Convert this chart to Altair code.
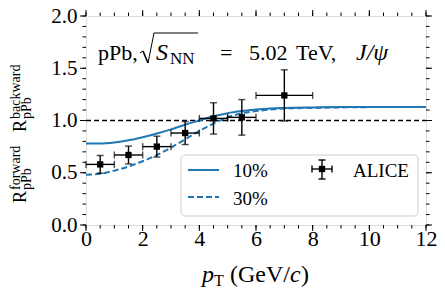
import altair as alt
import pandas as pd

# ---------------- data ----------------
pt_x = [0.5, 1.5, 2.5, 3.5, 4.5, 5.5, 7.0]
pt_xerr = [0.5, 0.5, 0.5, 0.5, 0.5, 0.5, 1.0]
pt_y = [0.58, 0.67, 0.75, 0.88, 1.02, 1.03, 1.24]
pt_yerr = [0.085, 0.085, 0.10, 0.11, 0.15, 0.17, 0.245]

curve_x = [0, 0.5, 1, 1.5, 2, 2.5, 3, 3.5, 4, 4.5, 5, 5.5, 6, 6.5, 7, 8, 9, 10, 11, 12]
curve_10 = [0.78, 0.78, 0.79, 0.81, 0.84, 0.875, 0.915, 0.96, 1.00, 1.04, 1.07, 1.09,
            1.105, 1.115, 1.12, 1.125, 1.128, 1.13, 1.13, 1.13]
curve_30 = [0.48, 0.49, 0.52, 0.56, 0.61, 0.67, 0.74, 0.82, 0.90, 0.97, 1.03, 1.07,
            1.09, 1.105, 1.115, 1.12, 1.125, 1.128, 1.13, 1.13]

x_major = [0, 2, 4, 6, 8, 10, 12]
x_minor = [i * 0.5 for i in range(25)]
y_major = [0.0, 0.5, 1.0, 1.5, 2.0]
y_minor = [i * 0.1 for i in range(21)]

W, H = 340, 209
TOP = 8
FONT = "Liberation Serif, Times New Roman, Tinos, DejaVu Serif, serif"
BLUE = "#1f77b4"

xs = alt.Scale(domain=[0, 12], nice=False, zero=False)
ys = alt.Scale(domain=[0, 2], nice=False, zero=False)
xax = alt.Axis(values=x_major, ticks=False, domain=False, grid=False, labelFont=FONT,
               labelFontSize=22, labelColor="black", labelPadding=3, title=None,
               labelFlush=False)
yax = alt.Axis(values=y_major, ticks=False, domain=False, grid=False, labelFont=FONT,
               labelFontSize=21, labelColor="black", labelPadding=9, title=None,
               format=".1f")


def X(f):
    return alt.X(f, type="quantitative", scale=xs, axis=xax, title=None)


def Y(f):
    return alt.Y(f, type="quantitative", scale=ys, axis=yax, title=None)


pts = pd.DataFrame({"x": pt_x, "y": pt_y,
                    "xlo": [a - b for a, b in zip(pt_x, pt_xerr)],
                    "xhi": [a + b for a, b in zip(pt_x, pt_xerr)],
                    "ylo": [a - b for a, b in zip(pt_y, pt_yerr)],
                    "yhi": [a + b for a, b in zip(pt_y, pt_yerr)]})
cur = pd.DataFrame({"x": curve_x, "c10": curve_10, "c30": curve_30})

layers = []

# reference line at 1
ref = pd.DataFrame({"x": [0, 12], "y": [1, 1]})
layers.append(alt.Chart(ref).mark_line(color="black", strokeWidth=1.3, strokeDash=[5, 3])
              .encode(x=X("x"), y=Y("y")))

# curves
layers.append(alt.Chart(cur).mark_line(color=BLUE, strokeWidth=2, interpolate="monotone")
              .encode(x=X("x"), y=Y("c10")))
layers.append(alt.Chart(cur).mark_line(color=BLUE, strokeWidth=2, interpolate="monotone",
                                       strokeDash=[6, 3])
              .encode(x=X("x"), y=Y("c30")))

# error bars
base = alt.Chart(pts)
layers.append(base.mark_rule(color="black", strokeWidth=1.4)
              .encode(x=X("xlo"), x2="xhi", y=Y("y")))
layers.append(base.mark_rule(color="black", strokeWidth=1.4)
              .encode(x=X("x"), y=Y("ylo"), y2="yhi"))
for f in ["ylo", "yhi"]:
    layers.append(base.mark_tick(color="black", orient="horizontal", size=7, thickness=1.4)
                  .encode(x=X("x"), y=Y(f)))
for f in ["xlo", "xhi"]:
    layers.append(base.mark_tick(color="black", orient="vertical", size=7, thickness=1.4)
                  .encode(x=X(f), y=Y("y")))
layers.append(base.mark_square(color="black", size=40, opacity=1)
              .encode(x=X("x"), y=Y("y")))


# outward ticks on all four sides
def xticks(vals, ln):
    d = alt.Chart(pd.DataFrame({"v": vals}))
    return [d.mark_rule(color="black", strokeWidth=1).encode(x=X("v"), y=alt.value(H), y2=alt.value(H + ln)),
            d.mark_rule(color="black", strokeWidth=1).encode(x=X("v"), y=alt.value(0), y2=alt.value(-ln))]


def yticks(vals, ln):
    d = alt.Chart(pd.DataFrame({"v": vals}))
    return [d.mark_rule(color="black", strokeWidth=1).encode(y=Y("v"), x=alt.value(0), x2=alt.value(-ln)),
            d.mark_rule(color="black", strokeWidth=1).encode(y=Y("v"), x=alt.value(W), x2=alt.value(W + ln))]


layers += xticks(x_minor, 3.5) + xticks(x_major, 6) + yticks(y_minor, 3.5) + yticks(y_major, 6)


def txt(s, x, y, size, style="normal", angle=0, align="left", baseline="alphabetic"):
    return (alt.Chart(pd.DataFrame({"t": [s]}))
            .mark_text(font=FONT, fontSize=size, fontStyle=style, angle=angle, align=align,
                       baseline=baseline, color="black")
            .encode(x=alt.value(x), y=alt.value(y), text="t:N"))


one = alt.Chart(pd.DataFrame({"a": [0]}))


def seg(x1, y1, x2, y2, w=1.0, color="black", dash=None):
    kw = dict(color=color, strokeWidth=w)
    if dash:
        kw["strokeDash"] = dash
    return one.mark_rule(**kw).encode(x=alt.value(x1), y=alt.value(y1),
                                      x2=alt.value(x2), y2=alt.value(y2))


# legend box (pixel coordinates relative to the plot area)
legbox = one.mark_rect(
    fill="white", fillOpacity=0.8, stroke="#cccccc", strokeWidth=1, cornerRadius=4
).encode(x=alt.value(95), x2=alt.value(332), y=alt.value(139), y2=alt.value(200))
layers.append(legbox)
layers.append(seg(102, 154, 133, 154, 2, BLUE))
layers.append(seg(102, 181, 133, 181, 2, BLUE, [6, 3]))
layers.append(txt("10%", 147, 161, 19))
layers.append(txt("30%", 147, 189, 19))
layers.append(txt("ALICE", 267, 161, 19))
layers.append(seg(226, 153, 246, 153, 1.4))
layers.append(seg(236, 144, 236, 163, 1.4))
for yy in [144, 163]:
    layers.append(seg(232.5, yy, 239.5, yy, 1.4))
for xx in [226, 246]:
    layers.append(seg(xx, 149.5, xx, 156.5, 1.4))
layers.append(one.mark_square(color="black", size=40, opacity=1)
              .encode(x=alt.value(236), y=alt.value(153)))

# annotation: pPb, sqrt(S_NN) = 5.02 TeV, J/psi
layers.append(txt("pPb,", 12, 44, 22))
layers.append(seg(54, 37, 57, 35, 1.0))
layers.append(seg(57, 35, 62, 47, 1.6))
layers.append(seg(62, 47, 68, 17, 1.0))
layers.append(seg(68, 17, 112, 17, 1.0))
layers.append(txt("S", 70, 44, 24, style="italic"))
layers.append(txt("NN", 84, 48, 17))
layers.append(txt("=", 134, 44, 22))
layers.append(txt("5.02", 163, 44, 22))
layers.append(txt("TeV,", 210, 44, 22))
layers.append(txt("J/\u03c8", 270, 44, 24, style="italic"))

# x axis title
layers.append(txt("p", 116, 266, 24, style="italic"))
layers.append(txt("T", 128, 270, 16))
layers.append(txt("(GeV/", 144, 266, 24))
layers.append(txt("c", 204, 266, 24, style="italic"))
layers.append(txt(")", 215, 266, 24))

# y axis title (rotated)
layers.append(txt("R", -60, 187, 18, angle=270))
layers.append(txt("forward", -66, 174, 14, angle=270))
layers.append(txt("pPb", -55, 174, 14, angle=270))
layers.append(txt("R", -60, 116, 18, angle=270))
layers.append(txt("backward", -66, 103, 14, angle=270))
layers.append(txt("pPb", -55, 103, 14, angle=270))

chart = alt.layer(*layers).properties(
    width=W, height=H,
    autosize=alt.AutoSizeParams(type="none"),
    padding={"left": 78, "top": TOP, "right": 11, "bottom": 66},
).configure_view(stroke="black", strokeWidth=1.2).configure(background="white")

chart.save("out.html", embed_options={"renderer": "svg", "actions": False})
